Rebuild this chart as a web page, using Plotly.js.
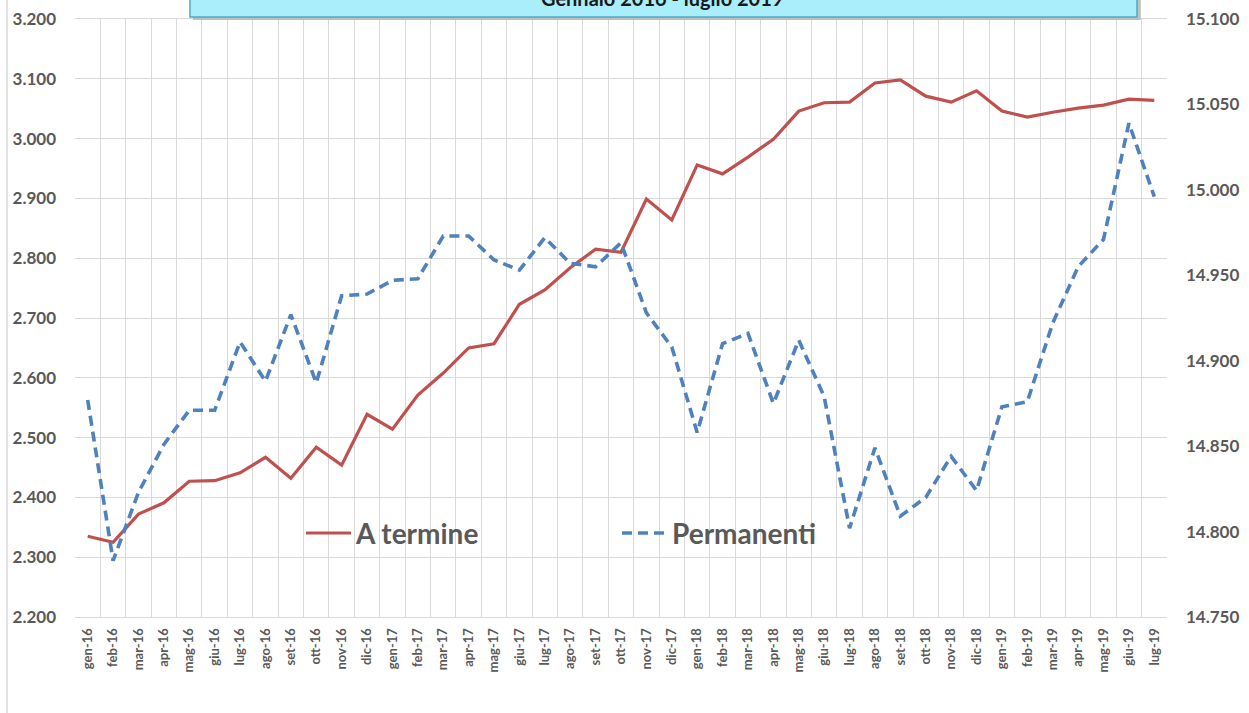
<!DOCTYPE html>
<html>
<head>
<meta charset="utf-8">
<script src="https://cdn.plot.ly/plotly-3.0.1.min.js"></script>
<style>html,body{margin:0;padding:0;background:#fff;}#chart{width:1249px;height:713px;}</style>
</head>
<body>
<div id="chart"></div>
<script>
const months = ["gen-16","feb-16","mar-16","apr-16","mag-16","giu-16","lug-16","ago-16","set-16","ott-16","nov-16","dic-16",
  "gen-17","feb-17","mar-17","apr-17","mag-17","giu-17","lug-17","ago-17","set-17","ott-17","nov-17","dic-17",
  "gen-18","feb-18","mar-18","apr-18","mag-18","giu-18","lug-18","ago-18","set-18","ott-18","nov-18","dic-18",
  "gen-19","feb-19","mar-19","apr-19","mag-19","giu-19","lug-19"];

const aTermine = [2335,2325,2372,2391,2427,2428,2441,2467,2432,2484,2454,2539,
  2514,2571,2608,2650,2657,2723,2747,2784,2815,2810,2899,2864,
  2956,2941,2969,2999,3046,3060,3061,3093,3098,3071,3061,3080,
  3046,3036,3044,3051,3056,3066,3064];

const permanenti = [14877,14783,14823,14851,14871,14871,14911,14888,14927,14887,14938,14939,
  14947,14948,14973,14973,14959,14953,14972,14957,14955,14969,14928,14908,
  14858,14910,14916,14875,14912,14879,14802,14849,14809,14820,14844,14824,
  14873,14876,14922,14955,14971,15039,14996];

const titleText = "Gennaio 2016 - luglio 2019";
const seriesNames = ["A termine", "Permanenti"];

const txtColor = "#595959";
const gridColor = "#d9d9d9";
const fam = "Lato, 'Open Sans', sans-serif";

const traces = [
  {x: months, y: aTermine, name: "<b>" + seriesNames[0] + "</b>", type: "scatter", mode: "lines",
   line: {color: "#c0504d", width: 3.2}, yaxis: "y"},
  {x: months, y: permanenti, name: "<b>" + seriesNames[1] + "</b>", type: "scatter", mode: "lines",
   line: {color: "#4f81bd", width: 3.6, dash: "10px,6px"}, yaxis: "y2"}
];

const layout = {
  width: 1249, height: 713,
  margin: {l: 75, r: 82, t: 19, b: 96},
  paper_bgcolor: "#fff", plot_bgcolor: "#fff",
  separators: ",.",
  showlegend: true,
  legend: {orientation: "h", x: 0.207, y: 0.14, xanchor: "left", yanchor: "middle",
    bgcolor: "rgba(0,0,0,0)", font: {family: fam, size: 28, color: txtColor, weight: "bold"},
    entrywidth: 256, entrywidthmode: "pixels", itemwidth: 45},
  xaxis: {type: "category", range: [-0.5, 42.5], tickson: "boundaries", showgrid: true,
    gridcolor: gridColor, gridwidth: 1, showline: true, linecolor: gridColor, mirror: true,
    ticks: "", tickangle: -90, tickfont: {family: fam, size: 13, color: txtColor, weight: "bold"},
    ticklabelstandoff: 5, zeroline: false, fixedrange: true},
  yaxis: {range: [2200, 3200], dtick: 100, tickformat: ",.0f", showgrid: true, gridcolor: gridColor,
    gridwidth: 1, zeroline: false, ticks: "", tickfont: {family: fam, size: 17, color: txtColor, weight: "bold"},
    ticklabelstandoff: 18, showline: false},
  yaxis2: {range: [14750, 15100], dtick: 50, tickformat: ",.0f", overlaying: "y", side: "right",
    showgrid: false, zeroline: false, ticks: "", tickfont: {family: fam, size: 17, color: txtColor, weight: "bold"},
    ticklabelstandoff: 18, showline: false},
  shapes: [
    {type: "rect", xref: "paper", yref: "paper", x0: 0.108, x1: 0.976, y0: 0.9985, y1: 1.08,
     fillcolor: "#bfbfbf", line: {width: 0}, layer: "above"},
    {type: "rect", xref: "paper", yref: "paper", x0: 0.1053, x1: 0.9725, y0: 1.0035, y1: 1.08,
     fillcolor: "#aaeefc", line: {color: "#4bacc6", width: 1.5}, layer: "above"},
    {type: "line", xref: "paper", yref: "paper", x0: -0.0623, x1: -0.0623, y0: -0.2, y1: 1.1,
     line: {color: gridColor, width: 1.5}}
  ],
  annotations: [
    {text: "<b>" + titleText + "</b>", xref: "paper", yref: "paper", x: 0.538, y: 1.0125,
     xanchor: "center", yanchor: "bottom", showarrow: false,
     font: {family: fam, size: 20, color: "#1a1a1a"}}
  ]
};

Plotly.newPlot("chart", traces, layout, {displayModeBar: false, staticPlot: true});
</script>
</body>
</html>
